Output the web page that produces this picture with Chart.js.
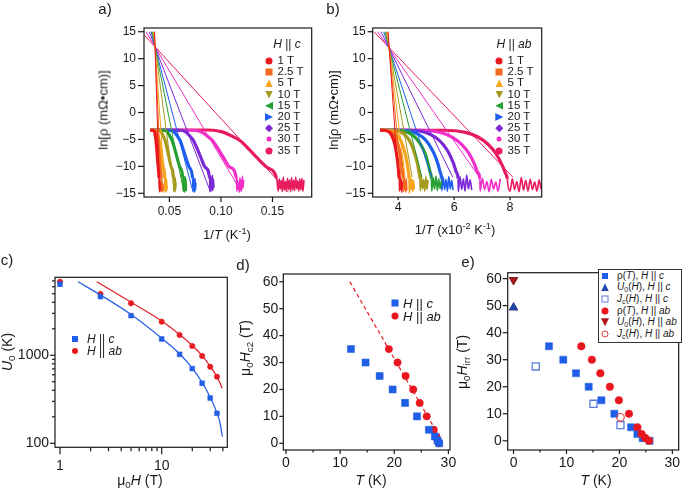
<!DOCTYPE html>
<html><head><meta charset="utf-8">
<script src="https://cdn.jsdelivr.net/npm/chart.js@4/dist/chart.umd.min.js"></script>
<style>
body{margin:0;background:#fff;}
#wrap{position:relative;width:685px;height:491px;overflow:hidden;font-family:"Liberation Sans",Arial,sans-serif;color:#1a1a1a;background:#fff}
canvas{position:absolute;left:0;top:0}
.t{position:absolute;white-space:nowrap;transform:translate(-50%,-50%);line-height:1}
.r{transform:translate(-50%,-50%) rotate(-90deg)}
.lg{position:absolute;white-space:nowrap;line-height:1;transform:translateY(-50%)}
.mk{position:absolute;transform:translate(-50%,-50%)}
sub{font-size:70%;vertical-align:-0.3em;line-height:0}
sup{font-size:70%;vertical-align:0.55em;line-height:0}
</style></head>
<body><div id="wrap"></div>
<script>
// ---------------- DATA ----------------
const fieldsT = ['1 T','2.5 T','5 T','10 T','15 T','20 T','25 T','30 T','35 T'];
const fieldColors = ['#e8191e','#f36a1f','#f7a51c','#a59a1d','#26a032','#1e5ef0','#7b29d6','#f02fc9','#e81b5c'];
const markerShapes = ['circle','square','tri','tridown','trileft','triright','diamond','dot','circle'];

// panel a: ln rho vs 1/T (K^-1), H || c
const curvesA = [
 [[0.0315,-3.3],[0.0345,-3.3],[0.0356,-3.6],[0.0365,-4.5],[0.0370,-5.2],[0.0378,-6.9],[0.0384,-8.4],[0.0392,-10.2],[0.0400,-12.2],[0.0403,-14.5],[0.0405,-12.4],[0.0407,-14.7],[0.0409,-13.0],[0.0411,-14.4],[0.0413,-12.8],[0.0415,-14.6]],
 [[0.0315,-3.3],[0.0350,-3.3],[0.0364,-3.6],[0.0375,-4.5],[0.0382,-5.2],[0.0392,-6.9],[0.0400,-8.4],[0.0410,-10.2],[0.0420,-12.2],[0.0423,-14.6],[0.0426,-12.2],[0.0429,-14.3],[0.0432,-12.9],[0.0435,-14.7],[0.0438,-13.2],[0.0441,-14.5]],
 [[0.0315,-3.3],[0.0355,-3.3],[0.0375,-3.6],[0.0391,-4.5],[0.0401,-5.2],[0.0415,-6.9],[0.0426,-8.4],[0.0441,-10.2],[0.0455,-12.2],[0.0458,-14.8],[0.0461,-12.0],[0.0464,-14.2],[0.0467,-12.6],[0.0470,-14.6],[0.0473,-12.3],[0.0476,-14.4],[0.0479,-13.6]],
 [[0.0315,-3.3],[0.0390,-3.3],[0.0420,-3.6],[0.0444,-4.5],[0.0459,-5.2],[0.0480,-6.9],[0.0497,-8.4],[0.0519,-10.2],[0.0540,-12.2],[0.0543,-14.6],[0.0546,-11.8],[0.0549,-14.2],[0.0552,-12.4],[0.0555,-14.7],[0.0558,-12.1],[0.0561,-14.3],[0.0564,-13.0]],
 [[0.0315,-3.3],[0.0440,-3.3],[0.0478,-3.6],[0.0508,-4.5],[0.0527,-5.2],[0.0554,-6.9],[0.0575,-8.4],[0.0603,-10.2],[0.0630,-12.2],[0.0633,-14.5],[0.0637,-11.7],[0.0641,-14.3],[0.0645,-12.0],[0.0649,-14.8],[0.0653,-11.9],[0.0657,-14.2],[0.0661,-12.3],[0.0665,-14.6]],
 [[0.0315,-3.3],[0.0500,-3.3],[0.0545,-3.6],[0.0581,-4.5],[0.0604,-5.2],[0.0635,-6.9],[0.0660,-8.4],[0.0694,-10.2],[0.0725,-12.2],[0.0729,-14.6],[0.0733,-12.0],[0.0737,-14.2],[0.0741,-12.5],[0.0745,-14.8],[0.0749,-12.2],[0.0753,-14.4],[0.0757,-13.1]],
 [[0.0315,-3.3],[0.0600,-3.3],[0.0658,-3.6],[0.0704,-4.5],[0.0733,-5.2],[0.0774,-6.9],[0.0806,-8.4],[0.0849,-10.2],[0.0890,-12.2],[0.0893,-14.7],[0.0898,-11.8],[0.0903,-14.3],[0.0908,-12.0],[0.0913,-14.6],[0.0918,-11.6],[0.0923,-14.4],[0.0928,-12.4],[0.0932,-14.0]],
 [[0.0315,-3.3],[0.0720,-3.3],[0.0806,-3.6],[0.0875,-4.5],[0.0918,-5.2],[0.0978,-6.9],[0.1025,-8.4],[0.1090,-10.2],[0.1150,-12.2],[0.1154,-14.6],[0.1160,-12.4],[0.1166,-14.2],[0.1172,-13.0],[0.1178,-14.8],[0.1184,-12.1],[0.1190,-14.3],[0.1196,-12.6],[0.1202,-14.5],[0.1208,-11.8],[0.1214,-14.0],[0.1220,-12.5]],
 [[0.0315,-3.3],[0.0600,-3.25],[0.0880,-3.25],[0.1012,-3.6],[0.1118,-4.5],[0.1184,-5.2],[0.1276,-6.9],[0.1349,-8.4],[0.1448,-10.2],[0.1540,-12.2],[0.1545,-13.0],[0.1555,-14.6],[0.1565,-12.3],[0.1575,-14.2],[0.1585,-12.6],[0.1595,-14.7],[0.1605,-12.0],[0.1615,-14.4],[0.1625,-12.8],[0.1635,-14.6],[0.1645,-12.2],[0.1655,-14.3],[0.1665,-12.5],[0.1675,-14.7],[0.1685,-12.1],[0.1695,-14.4],[0.1705,-12.6],[0.1715,-14.5],[0.1725,-12.0],[0.1735,-14.2],[0.1745,-12.7],[0.1755,-14.6],[0.1765,-12.3],[0.1775,-14.4],[0.1785,-12.2],[0.1795,-14.6],[0.1805,-12.5]]
];
const fitA_topX = [0.03564,0.03544,0.03507,0.03414,0.03321,0.03228,0.03051,0.02741,0.0256];
const fitA_topY = [15,15,15,15,15,15,15,15,14.4];
const fitA_botX = [0.0405,0.0425,0.046,0.055,0.064,0.073,0.090,0.120,0.1655];
const fitA_botY = [-14.8,-14.8,-14.8,-14.8,-14.8,-14.8,-14.8,-14.8,-14.8];

// panel b: ln rho vs 1/T (x10^-2 K^-1), H || ab
const curvesB = [
 [[3.35,-3.3],[3.50,-3.3],[3.69,-3.7],[3.80,-4.6],[3.88,-5.9],[3.94,-7.6],[3.99,-9.5],[4.02,-11.2],[4.04,-12.3],[4.05,-14.6],[4.07,-11.8],[4.09,-14.3],[4.11,-12.4],[4.13,-14.8],[4.15,-12.9]],
 [[3.35,-3.3],[3.55,-3.3],[3.77,-3.7],[3.90,-4.6],[3.99,-5.9],[4.07,-7.6],[4.12,-9.5],[4.16,-11.2],[4.18,-12.3],[4.19,-14.7],[4.21,-12.0],[4.23,-14.3],[4.25,-12.6],[4.27,-14.8],[4.29,-12.2],[4.31,-14.5]],
 [[3.35,-3.3],[3.60,-3.3],[3.88,-3.7],[4.03,-4.6],[4.15,-5.9],[4.25,-7.6],[4.32,-9.5],[4.37,-11.2],[4.39,-12.3],[4.40,-15.0],[4.43,-11.9],[4.46,-14.4],[4.49,-12.3],[4.52,-14.7],[4.55,-12.6],[4.58,-14.3]],
 [[3.35,-3.3],[3.75,-3.3],[4.11,-3.7],[4.32,-4.6],[4.47,-5.9],[4.59,-7.6],[4.69,-9.5],[4.75,-11.2],[4.78,-12.3],[4.79,-14.5],[4.83,-12.0],[4.87,-14.2],[4.91,-12.4],[4.95,-14.6],[4.99,-11.9],[5.03,-14.3],[5.07,-12.5]],
 [[3.35,-3.3],[3.90,-3.3],[4.35,-3.7],[4.61,-4.6],[4.80,-5.9],[4.96,-7.6],[5.07,-9.5],[5.15,-11.2],[5.19,-12.3],[5.20,-14.6],[5.25,-12.1],[5.30,-14.2],[5.35,-11.8],[5.40,-14.5],[5.45,-12.3],[5.50,-14.1],[5.55,-12.6]],
 [[3.35,-3.3],[4.05,-3.3],[4.58,-3.7],[4.88,-4.6],[5.10,-5.9],[5.28,-7.6],[5.42,-9.5],[5.51,-11.2],[5.55,-12.3],[5.56,-14.5],[5.61,-12.0],[5.66,-14.3],[5.71,-12.4],[5.76,-14.6],[5.81,-11.9],[5.86,-14.2],[5.91,-12.6],[5.96,-14.4]],
 [[3.35,-3.3],[4.35,-3.3],[4.98,-3.7],[5.33,-4.6],[5.60,-5.9],[5.82,-7.6],[5.98,-9.5],[6.09,-11.2],[6.14,-12.3],[6.15,-14.7],[6.21,-11.9],[6.27,-14.3],[6.33,-12.3],[6.39,-14.6],[6.45,-11.6],[6.51,-14.2],[6.57,-12.5],[6.63,-14.4]],
 [[3.35,-3.3],[4.75,-3.3],[5.51,-3.7],[5.94,-4.6],[6.27,-5.9],[6.53,-7.6],[6.72,-9.5],[6.85,-11.2],[6.92,-12.3],[6.93,-14.6],[7.01,-12.2],[7.09,-14.3],[7.17,-12.8],[7.25,-14.7],[7.33,-12.4],[7.41,-14.2],[7.49,-12.9],[7.57,-14.6],[7.65,-12.3]],
 [[3.35,-3.3],[5.60,-3.3],[6.40,-3.7],[6.87,-4.6],[7.21,-5.9],[7.49,-7.6],[7.69,-9.5],[7.83,-11.2],[7.90,-12.3],[7.92,-13.4],[8.00,-14.6],[8.08,-12.3],[8.16,-14.3],[8.24,-12.8],[8.32,-14.7],[8.40,-12.1],[8.48,-14.4],[8.56,-12.6],[8.64,-14.6],[8.72,-12.4],[8.80,-14.3],[8.88,-12.9],[8.96,-14.6],[9.04,-12.5],[9.10,-14.2]]
];
const fitB_topX = [3.639,3.626,3.606,3.573,3.528,3.483,3.385,3.262,3.135];
const fitB_topY = [15,15,15,15,15,15,15,15,15];
const fitB_botX = [4.0,4.1,4.25,4.5,4.85,5.2,5.95,6.9,8.1];
const fitB_botY = [-12,-12,-12,-12,-12,-12,-12,-12,-12];

// panel c: U0 vs mu0H (log-log)
const fieldC = [1,2.5,5,10,15,20,25,30,35];
const u0_c = [6410,4630,2820,1531,1026,705,481,327,219];
const u0_ab = [6850,4980,3900,2410,1701,1275,982,741,571];
const fitC_cX = [1.5,2.5,5,10,15,20,25,30,35,37.5,39.5];
const fitC_cY = [6850,4840,2900,1560,1040,715,490,333,222,170,119];
const fitC_abX = [2.3,5,10,15,20,25,30,35,39.4];
const fitC_abY = [6850,4000,2450,1720,1290,990,750,570,422];

// panel d: Hc2 vs T
const hc2Field = [35,30,25,20,15,10,5,2.5,1,0];
const tc2_c = [12,14.7,17.3,19.7,22,24.2,26.4,27.5,28,28.3];
const tc2_ab = [19,20.6,22.1,23.5,24.7,26,27.3,27.8,28.0,28.2];
const hc2Fit_ab = [[11.8,60],[27.6,5]];

// panel e: Hirr vs T
const irrField = [35,30,25,20,15,10,5,2.5,1,0];
const tirr_c = [6.7,9.4,11.8,14.2,16.6,19.05,22.2,23.4,24.4,25.7];
const tirr_ab = [12.8,14.8,16.4,18.2,19.9,21.8,23.4,24.2,24.9,25.6];
const u0Irr_c = [[0,49.3]];
const u0Irr_ab = [[0,59.5]];
const jcIrr_c = [[4.2,27.5],[15.1,13.7],[20.2,5.8]];
const jcIrr_ab = [[20.2,8.7]];

// tick labels
const ticksA_x = [0.05,0.10,0.15];
const ticksAB_y = [-15,-10,-5,0,5,10,15];
const ticksB_x = [4,6,8];
const ticksC_x = [1,10];
const ticksC_y = [100,1000];
const ticksC_xMinor = [2,3,4,5,6,7,8,9,20,30,40];
const ticksC_yMinor = [200,300,400,500,600,700,800,900,2000,3000,4000,5000,6000,7000];
const ticksDE_x = [0,10,20,30];
const ticksDE_xMinor = [5,15,25];
const ticksDE_y = [0,10,20,30,40,50,60];

// ---------------- RENDER ----------------
const FF = '"Liberation Sans", Arial, Helvetica, sans-serif';
const INK = '#1a1a1a';
const BLUE = '#1f5ee6', RED = '#e8171e';
const wrap = document.getElementById('wrap');
const minusFmt = v => (v < 0 ? '\u2212' + Math.abs(v) : String(v));

const framePlugin = {
  id: 'frame',
  afterDraw(chart, args, opts) {
    const ctx = chart.ctx, a = chart.chartArea;
    ctx.save();
    ctx.strokeStyle = INK; ctx.lineWidth = 1.2;
    const spec = opts.ticks || {};
    for (const id of Object.keys(spec)) {
      const s = chart.scales[id], sp = spec[id];
      const draw = (vals, len) => (vals || []).forEach(v => {
        ctx.beginPath();
        if (s.isHorizontal()) { const x = s.getPixelForValue(v); ctx.moveTo(x, a.bottom); ctx.lineTo(x, a.bottom + len); }
        else { const y = s.getPixelForValue(v); ctx.moveTo(a.left - len, y); ctx.lineTo(a.left, y); }
        ctx.stroke();
      });
      draw(sp.major, sp.majorLen); draw(sp.minor, sp.minorLen);
    }
    ctx.strokeRect(a.left, a.top, a.right - a.left, a.bottom - a.top);
    ctx.restore();
  }
};
Chart.register(framePlugin);

function mkAxis(o) {
  const isX = o.pos === 'bottom';
  return {
    type: o.type || 'linear', position: o.pos, min: o.min, max: o.max,
    afterBuildTicks: s => { s.ticks = o.ticks.map(v => ({value: v})); },
    afterFit: s => { if (isX) s.height = 24; else s.width = 40; },
    grid: {display: false, drawTicks: true, tickLength: o.tl},
    border: {display: false},
    ticks: {autoSkip: false, maxRotation: 0, minRotation: 0, padding: o.pad, color: INK,
            font: {family: FF, size: o.fs}, callback: o.fmt}
  };
}
function mkChart(padding, xAxis, yAxis, frame, datasets) {
  const cv = document.createElement('canvas');
  cv.width = 685; cv.height = 491;
  wrap.appendChild(cv);
  return new Chart(cv, {
    type: 'scatter',
    data: {datasets},
    options: {
      responsive: false, animation: false, devicePixelRatio: 1, events: [],
      layout: {padding},
      plugins: {legend: {display: false}, tooltip: {enabled: false}, frame},
      scales: {x: xAxis, y: yAxis}
    }
  });
}
const pairs = (xs, ys) => xs.map((x, i) => ({x, y: ys[i]}));
const arr = a => a.map(p => ({x: p[0], y: p[1]}));

function rhoDatasets(curves, tx, ty, bx, by) {
  const ds = [];
  for (let i = 0; i < curves.length; i++) {
    ds.push({data: [{x: tx[i], y: ty[i]}, {x: bx[i], y: by[i]}], showLine: true, pointRadius: 0,
             borderColor: fieldColors[i], borderWidth: 1, order: 0});
  }
  for (let i = 0; i < curves.length; i++) {
    const floorIdx = curves[i].findIndex(p => p[1] <= -12.2);
    ds.push({data: arr(curves[i]), showLine: true, pointRadius: 0, borderColor: fieldColors[i],
             borderWidth: 3.2, cubicInterpolationMode: 'monotone', order: 1,
             segment: {borderWidth: c => (c.p0DataIndex >= floorIdx ? 1.6 : 3.2)}});
  }
  return ds;
}

// panel a
mkChart({left: 104, right: 373.3, top: 28, bottom: 270},
  mkAxis({pos: 'bottom', min: 0.0254, max: 0.188, ticks: ticksA_x, tl: 5, pad: 2, fs: 12, fmt: v => v.toFixed(2)}),
  mkAxis({pos: 'left', min: -15.69, max: 15.69, ticks: ticksAB_y, tl: 6, pad: 2, fs: 12, fmt: minusFmt}),
  {ticks: {x: {major: ticksA_x, majorLen: 5}, y: {major: ticksAB_y, majorLen: 6}}},
  rhoDatasets(curvesA, fitA_topX, fitA_topY, fitA_botX, fitA_botY));

// panel b
mkChart({left: 332.7, right: 143.3, top: 28, bottom: 270},
  mkAxis({pos: 'bottom', min: 3.09, max: 9.13, ticks: ticksB_x, tl: 3, pad: 0, fs: 12.5, fmt: v => String(v)}),
  mkAxis({pos: 'left', min: -15.69, max: 15.69, ticks: ticksAB_y, tl: 5, pad: 2, fs: 12, fmt: minusFmt}),
  {ticks: {x: {major: ticksB_x, majorLen: 3}, y: {major: ticksAB_y, majorLen: 5}}},
  rhoDatasets(curvesB, fitB_topX, fitB_topY, fitB_botX, fitB_botY));

// panel c
mkChart({left: 15, right: 457.7, top: 277.3, bottom: 19.7},
  mkAxis({pos: 'bottom', type: 'logarithmic', min: 0.893, max: 44.2, ticks: ticksC_x, tl: 7, pad: 3, fs: 14, fmt: v => String(v)}),
  mkAxis({pos: 'left', type: 'logarithmic', min: 90, max: 7690, ticks: ticksC_y, tl: 5, pad: 1, fs: 14, fmt: v => String(v)}),
  {ticks: {x: {major: ticksC_x, majorLen: 7, minor: ticksC_xMinor, minorLen: 4},
           y: {major: ticksC_y, majorLen: 5, minor: ticksC_yMinor, minorLen: 3}}},
  [
    {data: pairs(fitC_cX, fitC_cY), showLine: true, pointRadius: 0, borderColor: '#2b63e4', borderWidth: 1.3, cubicInterpolationMode: 'monotone'},
    {data: pairs(fitC_abX, fitC_abY), showLine: true, pointRadius: 0, borderColor: '#e4262b', borderWidth: 1.3, cubicInterpolationMode: 'monotone'},
    {data: pairs(fieldC, u0_c), pointStyle: 'rect', pointRadius: 3.4, backgroundColor: BLUE, borderColor: BLUE, borderWidth: 0.5},
    {data: pairs(fieldC, u0_ab), pointStyle: 'circle', pointRadius: 2.7, backgroundColor: RED, borderColor: RED, borderWidth: 0.5}
  ]);

// panel d
mkChart({left: 243.3, right: 235, top: 274, bottom: 17},
  mkAxis({pos: 'bottom', min: -0.5, max: 30.3, ticks: ticksDE_x, tl: 4, pad: 1, fs: 14, fmt: v => String(v)}),
  mkAxis({pos: 'left', min: -2.5, max: 62.9, ticks: ticksDE_y, tl: 4, pad: 1, fs: 14, fmt: v => String(v)}),
  {ticks: {x: {major: ticksDE_x, majorLen: 4, minor: ticksDE_xMinor, minorLen: 2.5}, y: {major: ticksDE_y, majorLen: 4}}},
  [
    {data: pairs(tc2_c, hc2Field), pointStyle: 'rect', pointRadius: 5, backgroundColor: BLUE, borderColor: BLUE, borderWidth: 0.5},
    {data: arr(hc2Fit_ab), showLine: true, pointRadius: 0, borderColor: RED, borderWidth: 1.2, borderDash: [4, 3]},
    {data: pairs(tc2_ab, hc2Field), pointStyle: 'circle', pointRadius: 3.7, backgroundColor: RED, borderColor: RED, borderWidth: 0.5}
  ]);

// panel e
mkChart({left: 467.7, right: 3.3, top: 272.7, bottom: 17},
  mkAxis({pos: 'bottom', min: -1.1, max: 31.2, ticks: ticksDE_x, tl: 4, pad: 1, fs: 14, fmt: v => String(v)}),
  mkAxis({pos: 'left', min: -3.4, max: 62.2, ticks: ticksDE_y, tl: 5, pad: 1, fs: 14, fmt: v => String(v)}),
  {ticks: {x: {major: ticksDE_x, majorLen: 4, minor: ticksDE_xMinor, minorLen: 2.5}, y: {major: ticksDE_y, majorLen: 5}}},
  [
    {data: arr(jcIrr_ab), pointStyle: 'circle', pointRadius: 3.8, backgroundColor: 'rgba(255,255,255,0)', borderColor: '#e2404a', borderWidth: 1.2},
    {data: pairs(tirr_ab, irrField), pointStyle: 'circle', pointRadius: 3.8, backgroundColor: RED, borderColor: RED, borderWidth: 0.5},
    {data: pairs(tirr_c, irrField), pointStyle: 'rect', pointRadius: 5, backgroundColor: BLUE, borderColor: BLUE, borderWidth: 0.5},
    {data: arr(jcIrr_c), pointStyle: 'rect', pointRadius: 5, backgroundColor: '#ffffff', borderColor: '#5a7ddc', borderWidth: 1.3},
    {data: arr(u0Irr_c), pointStyle: 'triangle', pointRadius: 5, backgroundColor: '#2546b0', borderColor: '#1a2f70', borderWidth: 0.8, clip: false},
    {data: arr(u0Irr_ab), pointStyle: 'triangle', rotation: 180, pointRotation: 180, pointRadius: 5, backgroundColor: '#b0161b', borderColor: '#5e0d10', borderWidth: 0.8, clip: false}
  ]);

// ---------------- TEXT / LEGENDS (HTML) ----------------
function txt(html, x, y, size, rot, extra) {
  const d = document.createElement('div');
  d.className = 't' + (rot ? ' r' : '');
  d.style.cssText = `left:${x}px;top:${y}px;font-size:${size}px;` + (extra || '');
  d.innerHTML = html;
  wrap.appendChild(d);
  return d;
}
function lgText(html, x, y, size) {
  const d = document.createElement('div');
  d.className = 'lg';
  d.style.cssText = `left:${x}px;top:${y}px;font-size:${size}px;`;
  d.innerHTML = html;
  wrap.appendChild(d);
}
const clips = {tri: 'polygon(50% 0,100% 100%,0 100%)', tridown: 'polygon(0 0,100% 0,50% 100%)',
  trileft: 'polygon(0 50%,100% 0,100% 100%)', triright: 'polygon(0 0,100% 50%,0 100%)',
  diamond: 'polygon(50% 0,100% 50%,50% 100%,0 50%)'};
function marker(shape, color, size, x, y, open) {
  const d = document.createElement('div');
  d.className = 'mk';
  let css = `left:${x}px;top:${y}px;width:${size}px;height:${size}px;`;
  if (open) css += `border:1.3px solid ${color};box-sizing:border-box;background:#fff;`;
  else css += `background:${color};`;
  if (shape === 'circle' || shape === 'dot') css += 'border-radius:50%;';
  if (clips[shape]) css += `clip-path:${clips[shape]};`;
  d.style.cssText = css;
  wrap.appendChild(d);
}

// panel labels
txt('a)', 105, 8, 15); txt('b)', 333, 8, 15);
txt('c)', 7, 259, 15); txt('d)', 243, 264, 15); txt('e)', 468, 261, 15);

// axis titles
txt('ln[ρ (mΩ•cm)]', 103, 110, 13, true);
txt('ln[ρ (mΩ•cm)]', 333, 110, 13, true);
txt('1/<i>T</i> (K<sup>-1</sup>)', 227, 234, 13);
txt('1/<i>T</i> (x10<sup>-2</sup> K<sup>-1</sup>)', 455, 229, 13);
txt('<i>U</i><sub>0</sub> (K)', 7, 352, 14, true);
txt('μ<sub>0</sub><i>H</i> (T)', 140, 480, 14);
txt('μ<sub>0</sub><i>H</i><sub>c2</sub> (T)', 245, 348, 14, true);
txt('<i>T</i> (K)', 371, 480, 14);
txt('μ<sub>0</sub><i>H</i><sub>irr</sub> (T)', 462, 362, 14, true);
txt('<i>T</i> (K)', 596, 480, 14);

// legends a & b
function legendAB(mx, tx, header, hx) {
  txt(header, hx, 44, 12);
  for (let i = 0; i < fieldsT.length; i++) {
    const y = 61 + i * 11.2;
    const sh = markerShapes[i];
    const size = sh === 'dot' ? 5 : (sh === 'diamond' ? 8 : (sh.startsWith('tri') ? 8 : 7));
    marker(sh, fieldColors[i], size, mx, y);
    lgText(fieldsT[i], tx, y, 11.5);
  }
}
legendAB(269, 277.5, '<i>H</i> || <i>c</i>', 287);
legendAB(499.3, 507.5, '<i>H</i> || <i>ab</i>', 514);

// legend c
marker('square', BLUE, 6, 75, 339.3); lgText('<i>H</i> || <i>c</i>', 87, 339.3, 12);
marker('circle', RED, 6, 75, 350.5); lgText('<i>H</i> || <i>ab</i>', 87, 350.5, 12);

// legend d
marker('square', BLUE, 7, 395, 303.3); lgText('<i>H</i> || <i>c</i>', 403, 303.3, 13);
marker('circle', RED, 7, 395, 316); lgText('<i>H</i> || <i>ab</i>', 403, 316, 13);

// legend e
const box = document.createElement('div');
box.style.cssText = 'position:absolute;left:597.7px;top:269px;width:84.6px;height:74.3px;border:1.5px solid #333;box-sizing:border-box;background:#fff';
wrap.appendChild(box);
const eRows = [
  ['square', BLUE, 6, false, 'ρ(<i>T</i>), <i>H</i> || <i>c</i>'],
  ['tri', '#2546b0', 8, false, '<i>U</i><sub>0</sub>(<i>H</i>), <i>H</i> || <i>c</i>'],
  ['square', '#5a7ddc', 7, true, '<i>J</i><sub>c</sub>(<i>H</i>), <i>H</i> || <i>c</i>'],
  ['circle', RED, 7, false, 'ρ(<i>T</i>), <i>H</i> || <i>ab</i>'],
  ['tridown', '#b0161b', 8, false, '<i>U</i><sub>0</sub>(<i>H</i>), <i>H</i> || <i>ab</i>'],
  ['circle', '#e2404a', 7, true, '<i>J</i><sub>c</sub>(<i>H</i>), <i>H</i> || <i>ab</i>']
];
eRows.forEach((r, i) => {
  const y = 275.8 + i * 11.6;
  marker(r[0], r[1], r[2], 605, y, r[3]);
  lgText(r[4], 617, y, 10);
});
</script>
</body></html>
